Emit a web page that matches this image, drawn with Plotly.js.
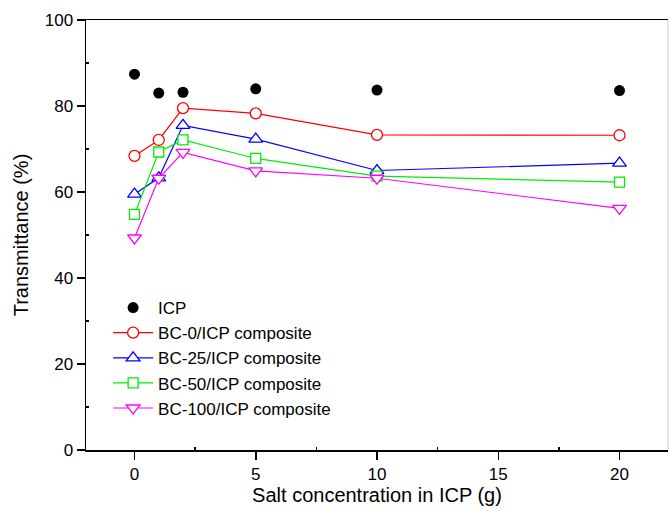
<!DOCTYPE html>
<html>
<head>
<meta charset="utf-8">
<script src="https://cdn.plot.ly/plotly-3.0.1.min.js"></script>
<style>html,body{margin:0;padding:0;background:#fff;}#chart{width:669px;height:515px;}</style>
</head>
<body>
<div id="chart"></div>
<script>
var saltX = [0, 1, 2, 5, 10, 20];
var icp = [87.4, 83.0, 83.2, 84.0, 83.7, 83.6];
var bc0 = [68.4, 72.1, 79.5, 78.3, 73.3, 73.2];
var bc25 = [59.5, 63.3, 75.5, 72.3, 65.0, 66.7];
var bc50 = [54.8, 69.3, 72.1, 67.8, 63.7, 62.3];
var bc100 = [49.3, 63.2, 69.2, 64.9, 63.2, 56.2];
var names = ['ICP', 'BC-0/ICP composite', 'BC-25/ICP composite', 'BC-50/ICP composite', 'BC-100/ICP composite'];

function comp(y, name, color, symbol, size) {
  return {
    x: saltX, y: y, name: name, type: 'scatter', mode: 'lines+markers',
    line: {color: color, width: 1.2},
    marker: {symbol: symbol, size: size, color: '#ffffff', line: {color: color, width: 1.3}}
  };
}

var traces = [
  {x: saltX, y: icp, name: names[0], type: 'scatter', mode: 'markers',
   marker: {symbol: 'circle', size: 11, color: '#000'}},
  comp(bc0, names[1], '#ff0000', 'circle', 11),
  comp(bc25, names[2], '#0000ff', 'triangle-up', 12),
  comp(bc50, names[3], '#00ee00', 'square', 10),
  comp(bc100, names[4], '#ff00ff', 'triangle-down', 12)
];

var layout = {
  width: 669, height: 515,
  margin: {l: 86, r: 1, t: 20, b: 65},
  paper_bgcolor: '#fff', plot_bgcolor: '#fff',
  font: {family: 'Liberation Sans, Arial, sans-serif', color: '#000', size: 17},
  showlegend: true,
  legend: {x: 0.038, y: 0.372, xanchor: 'left', yanchor: 'top', bgcolor: 'rgba(0,0,0,0)',
           font: {size: 17}, itemwidth: 40},
  xaxis: {
    range: [-2, 22], tickvals: [0, 5, 10, 15, 20], showgrid: false, zeroline: false,
    showline: true, linecolor: '#000', linewidth: 1.5, mirror: true,
    ticks: 'outside', ticklen: 8, tickwidth: 1.5, tickcolor: '#000',
    minor: {tickvals: [2.5, 7.5, 12.5, 17.5], ticks: 'inside', ticklen: 3, tickcolor: '#000'},
    tickfont: {size: 17},
    title: {text: 'Salt concentration in ICP (g)', font: {size: 20}, standoff: 5}
  },
  yaxis: {
    range: [0, 100], tickvals: [0, 20, 40, 60, 80, 100], showgrid: false, zeroline: false,
    showline: true, linecolor: '#000', linewidth: 1.5,
    ticks: 'outside', ticklen: 8, tickwidth: 1.5, tickcolor: '#000',
    minor: {tickvals: [10, 30, 50, 70, 90], ticks: 'inside', ticklen: 3, tickcolor: '#000'},
    tickfont: {size: 17},
    title: {text: 'Transmittance (%)', font: {size: 20}, standoff: 10}
  },
  shapes: [{type: 'line', xref: 'paper', yref: 'paper', x0: 1, x1: 1, y0: 0, y1: 1,
            line: {color: '#d0d0d0', width: 1}}]
};

Plotly.newPlot('chart', traces, layout, {displayModeBar: false, staticPlot: true});
</script>
</body>
</html>
